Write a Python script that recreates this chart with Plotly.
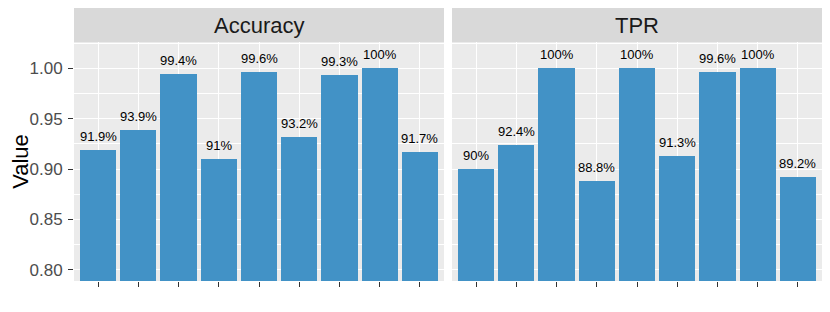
import plotly.graph_objects as go

panels = ["Accuracy", "TPR"]
categories = [1, 2, 3, 4, 5, 6, 7, 8, 9]
accuracy_values = [0.919, 0.939, 0.994, 0.910, 0.996, 0.932, 0.993, 1.000, 0.917]
accuracy_labels = ["91.9%", "93.9%", "99.4%", "91%", "99.6%", "93.2%", "99.3%", "100%", "91.7%"]
tpr_values = [0.900, 0.924, 1.000, 0.888, 1.000, 0.913, 0.996, 1.000, 0.892]
tpr_labels = ["90%", "92.4%", "100%", "88.8%", "100%", "91.3%", "99.6%", "100%", "89.2%"]
y_ticks = [0.80, 0.85, 0.90, 0.95, 1.00]
y_ticktext = ["0.80", "0.85", "0.90", "0.95", "1.00"]

BAR = "#4292C6"
FONT = "Liberation Sans, Arial, sans-serif"

# page body has an 8px default margin, so the figure is sized to fit the window
W, H = 822, 304
ML, MR, MT, MB = 66, 8, 34, 31
pw = W - ML - MR
ph = H - MT - MB
gap = 8
d1 = [0, (pw - gap) / 2 / pw]
d2 = [1 - (pw - gap) / 2 / pw, 1]
strip_h = 34 / ph

fig = go.Figure()
series = [(accuracy_values, accuracy_labels, "x"), (tpr_values, tpr_labels, "x2")]
for vals, labs, xa in series:
    fig.add_trace(go.Bar(x=categories, y=vals, marker=dict(color=BAR, line=dict(width=0)),
                         width=0.9, xaxis=xa, yaxis="y" if xa == "x" else "y2",
                         showlegend=False, hoverinfo="y"))
    for c, v, t in zip(categories, vals, labs):
        fig.add_annotation(x=c, y=v, xref=xa, yref="y", text=t, showarrow=False,
                           yanchor="bottom", yshift=4,
                           font=dict(size=13, color="black", family=FONT))

xcommon = dict(range=[0.4, 9.6], tickvals=categories, ticktext=[""] * 9,
               showgrid=True, gridcolor="white", gridwidth=1.4, zeroline=False,
               ticks="outside", ticklen=5, tickcolor="#333333", tickwidth=1.1,
               showline=False, fixedrange=True, automargin=False)
ycommon = dict(range=[0.789, 1.026], tickvals=y_ticks, ticktext=y_ticktext,
               showgrid=True, gridcolor="white", gridwidth=1.4, zeroline=False,
               minor=dict(dtick=0.025, tick0=0.8, showgrid=True, gridcolor="white",
                          gridwidth=0.7, ticklen=0),
               fixedrange=True, automargin=False)

fig.update_layout(
    width=W, height=H,
    margin=dict(l=ML, r=MR, t=MT, b=MB, autoexpand=False),
    paper_bgcolor="white", plot_bgcolor="#EBEBEB",
    font=dict(family=FONT),
    bargap=0,
    xaxis=dict(domain=d1, anchor="y", **xcommon),
    xaxis2=dict(domain=d2, anchor="y2", **xcommon),
    yaxis=dict(anchor="x", ticks="outside", ticklen=5, tickcolor="#333333", tickwidth=1.1,
               ticklabelstandoff=2,
               tickfont=dict(size=17, color="#4D4D4D", family=FONT),
               title=dict(text="Value", font=dict(size=22, color="black", family=FONT), standoff=12),
               **ycommon),
    yaxis2=dict(anchor="x2", matches="y", showticklabels=False, ticks="", **ycommon),
)

# facet strips
for name, dom in zip(panels, [d1, d2]):
    fig.add_shape(type="rect", xref="paper", yref="paper", x0=dom[0], x1=dom[1],
                  y0=1, y1=1 + strip_h, fillcolor="#D9D9D9", line=dict(width=0), layer="below")
    fig.add_annotation(xref="paper", yref="paper", x=(dom[0] + dom[1]) / 2, y=1 + strip_h / 2,
                       text=name, showarrow=False, xanchor="center", yanchor="middle",
                       font=dict(size=22, color="#1A1A1A", family=FONT))

fig.write_html("out.html")
